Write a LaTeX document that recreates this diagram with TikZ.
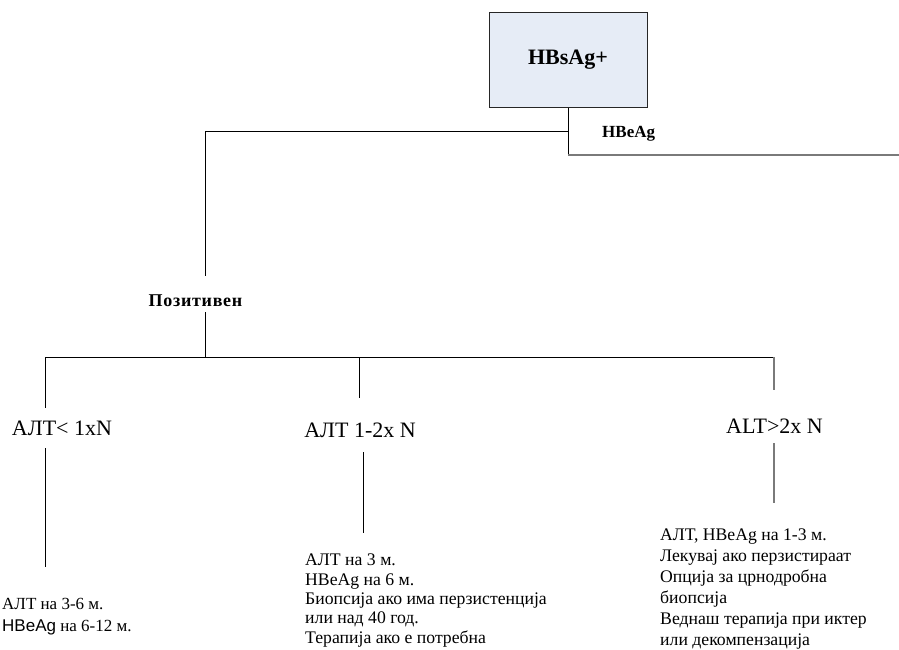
\documentclass[tikz,border=0pt]{standalone}
\usepackage{fontspec}
\setmainfont{Liberation Serif}
\newfontfamily\arialfont{Liberation Sans}
\usetikzlibrary{positioning,calc}
\definecolor{boxFill}{HTML}{E6ECF6}
\definecolor{lineGray}{HTML}{7A7A7A}
\tikzset{
  conn/.style={line width=1pt, black},
  grayconn/.style={line width=1.2pt, lineGray},
  rootbox/.style={draw=black!85, fill=boxFill, line width=1pt,
    minimum width=158, minimum height=95,
    font=\fontsize{22}{26}\selectfont\bfseries},
  tag/.style={font=\fontsize{#1}{20}\selectfont\bfseries, inner sep=0pt},
  branch/.style={font=\fontsize{22}{26}\selectfont, inner sep=0pt},
  advice/.style 2 args={font=\fontsize{#1}{#2}\selectfont, align=left,
    inner sep=0pt, anchor=north west}
}
\begin{document}
\begin{tikzpicture}[x=1pt,y=-1pt]
  % page = 899 x 649, one unit = one pixel, y grows downwards
  \useasboundingbox (0,0) rectangle (899,649);

  % top of the tree
  \node[rootbox] (root) at (568,59.5) {HBsAg+};
  \node[tag=17,anchor=base west] (hbeag) at (602,137) {HBeAg};
  \node[tag=18,anchor=base] (pos) at (195.5,306)
    {\addfontfeature{LetterSpace=4}Позитивен};

  \coordinate (eTee) at (568,131);
  \coordinate (eCorner) at (568,155);
  \coordinate (eEnd) at (899,155);
  \coordinate (posIn) at (205,276);
  \coordinate (posOut) at (205,312);
  \coordinate (bus) at (205,357);
  \coordinate (busL) at (45,357);
  \coordinate (busR) at (774,357);

  \draw[conn] (root.south) -- (eCorner);
  \draw[grayconn] (eCorner) -- (eEnd);
  \draw[conn] (eTee) -| (posIn);
  \draw[conn] (posOut) -- (bus);
  \draw[conn] (busL) -- (busR);

  % three ALT branches
  \node[branch,anchor=base] (low) at (62,435) {АЛТ< 1xN};
  \node[branch,anchor=base] (mid) at (360,437) {АЛТ 1-2x N};
  \node[branch,anchor=base] (high) at (774.5,433) {ALT>2x N};

  \coordinate (lowIn) at (45,408);
  \coordinate (lowOut) at (45,448);
  \coordinate (lowEnd) at (45,567);
  \coordinate (midTop) at (359,357);
  \coordinate (midIn) at (359,398);
  \coordinate (midOut) at (363,452);
  \coordinate (midEnd) at (363,533);
  \coordinate (highIn) at (774,390);
  \coordinate (highOut) at (774,443);
  \coordinate (highEnd) at (774,503);

  \draw[conn] (busL) -- (lowIn);
  \draw[conn] (lowOut) -- (lowEnd);
  \draw[conn] (midTop) -- (midIn);
  \draw[conn] (midOut) -- (midEnd);
  \draw[grayconn] (busR) -- (highIn);
  \draw[grayconn] (highOut) -- (highEnd);

  % follow-up advice
  \node[advice={17}{22}] (lowTxt) at (2,598) {АЛТ на 3-6 м.\\{\arialfont HBeAg} на 6-12 м.};
  \node[advice={17.7}{19.3}] (midTxt) at (305,554) {АЛТ на 3 м.\\HBeAg на 6 м.\\Биопсија ако има перзистенција\\или над 40 год.\\Терапија ако е потребна};
  \node[advice={17.7}{21}] (highTxt) at (660,529) {АЛТ, HBeAg на 1-3 м.\\Лекувај ако перзистираат\\Опција за црнодробна\\биопсија\\Веднаш терапија при иктер\\или декомпензација};
\end{tikzpicture}
\end{document}
